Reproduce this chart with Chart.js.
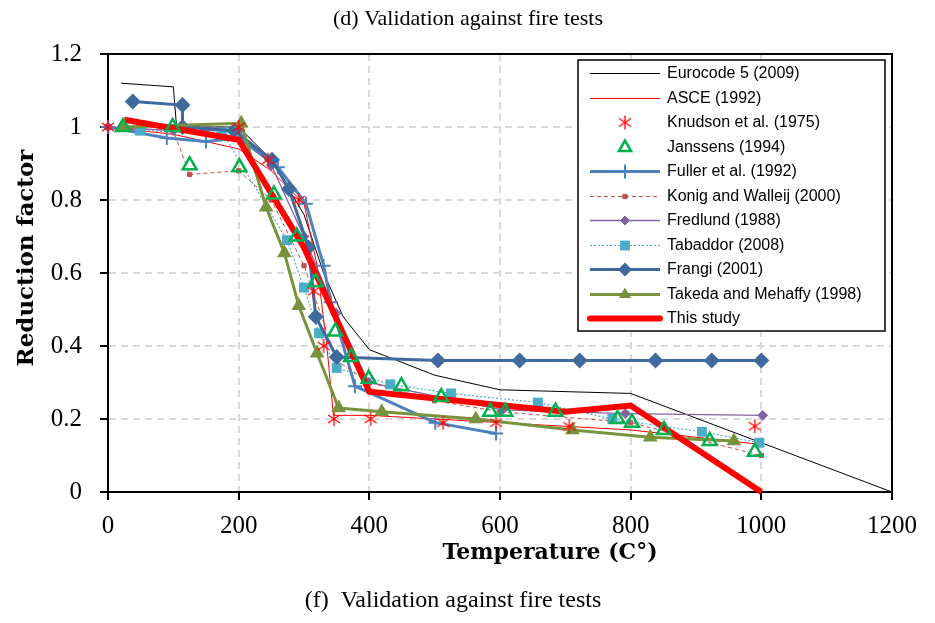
<!DOCTYPE html>
<html lang="en">
<head>
<meta charset="UTF-8">
<title>Validation against fire tests</title>
<style>
  html, body { margin: 0; padding: 0; background: #fff; }
  #wrap { width: 935px; height: 623px; position: relative; }
</style>
</head>
<body>
<div id="wrap"><canvas id="myChart"></canvas></div>

<script src="https://cdn.jsdelivr.net/npm/chart.js"></script>
<script>
// axis ticks
const xTicks = [0, 200, 400, 600, 800, 1000, 1200];
const yTicks = [0, 0.2, 0.4, 0.6, 0.8, 1, 1.2];
const yTickLabels = ['0', '0.2', '0.4', '0.6', '0.8', '1', '1.2'];

// temperature (C) / reduction factor
const eurocodeT = [20, 100, 105, 200, 250, 300, 330, 360, 400, 500, 600, 800, 1200];
const eurocodeR = [1.12, 1.11, 1.0, 1.0, 0.91, 0.76, 0.6, 0.48, 0.39, 0.32, 0.28, 0.27, 0];

const asceT = [0, 100, 200, 250, 300, 320, 335, 345, 400, 600, 800, 1000];
const asceR = [1.0, 0.98, 0.94, 0.88, 0.79, 0.62, 0.40, 0.21, 0.21, 0.19, 0.17, 0.13];

const knudsonT = [0, 200, 245, 292, 315, 330, 346, 402, 513, 594, 706, 990];
const knudsonR = [1.0, 1.0, 0.91, 0.80, 0.55, 0.40, 0.20, 0.20, 0.19, 0.19, 0.18, 0.18];

const janssensT = [23, 99, 125, 201, 254, 289, 318, 348, 372, 399, 449, 510, 585, 608, 685, 780, 802, 851, 921, 990];
const janssensR = [1.0, 1.0, 0.895, 0.89, 0.815, 0.70, 0.575, 0.44, 0.37, 0.31, 0.29, 0.26, 0.22, 0.22, 0.22, 0.20, 0.19, 0.17, 0.14, 0.11];

const fullerT = [0, 90, 150, 200, 260, 303, 330, 341, 378, 501, 594];
const fullerR = [1.0, 0.97, 0.96, 0.97, 0.89, 0.79, 0.62, 0.52, 0.29, 0.19, 0.16];

const konigT = [0, 100, 125, 200, 250, 300, 350, 400, 500, 600, 800, 1000];
const konigR = [1.0, 0.99, 0.87, 0.88, 0.80, 0.62, 0.36, 0.30, 0.25, 0.22, 0.19, 0.10];

const fredlundT = [0, 100, 200, 250, 300, 349, 399, 604, 792, 1002];
const fredlundR = [1.0, 0.99, 0.99, 0.895, 0.70, 0.49, 0.30, 0.225, 0.215, 0.21];

const tabaddorT = [49, 175, 274, 300, 323, 350, 432, 525, 658, 772, 909, 997];
const tabaddorR = [0.99, 0.985, 0.69, 0.56, 0.435, 0.34, 0.295, 0.27, 0.245, 0.20, 0.165, 0.135];

const frangiT = [38, 114, 114, 193, 251, 277, 307, 318, 350, 505, 630, 722, 838, 924, 1000];
const frangiR = [1.07, 1.06, 1.0, 0.99, 0.91, 0.83, 0.67, 0.48, 0.37, 0.36, 0.36, 0.36, 0.36, 0.36, 0.36];

const takedaT = [25, 204, 242, 270, 292, 320, 353, 419, 563, 711, 830, 958];
const takedaR = [1.0, 1.01, 0.78, 0.655, 0.51, 0.38, 0.23, 0.22, 0.20, 0.17, 0.15, 0.14];

const studyT = [25, 200, 300, 400, 700, 800, 1000];
const studyR = [1.02, 0.965, 0.67, 0.275, 0.22, 0.237, 0];

function pts(t, r) {
  return t.map((x, i) => ({ x: x, y: r[i] }));
}

// excel style asterisk marker
function asterisk(color) {
  const c = document.createElement('canvas');
  c.width = 16; c.height = 16;
  const g = c.getContext('2d');
  g.strokeStyle = color;
  g.lineWidth = 1.3;
  g.beginPath();
  g.moveTo(8, 1); g.lineTo(8, 15);
  g.moveTo(2, 4); g.lineTo(14, 12);
  g.moveTo(14, 4); g.lineTo(2, 12);
  g.stroke();
  return c;
}

const datasets = [
  { label: 'Eurocode 5 (2009)', data: pts(eurocodeT, eurocodeR), borderColor: '#000', borderWidth: 1, pointRadius: 0, order: 11 },
  { label: 'ASCE (1992)', data: pts(asceT, asceR), borderColor: '#FF0000', borderWidth: 1, pointRadius: 0, order: 10 },
  { label: 'Knudson et al. (1975)', data: pts(knudsonT, knudsonR), showLine: false, pointStyle: asterisk('#FF0000'),
    pointRadius: 7, borderColor: '#FF0000', order: 2 },
  { label: 'Janssens (1994)', data: pts(janssensT, janssensR), showLine: false, pointStyle: 'triangle', pointRadius: 8,
    borderColor: '#00B050', pointBorderWidth: 2.5, pointBackgroundColor: 'rgba(0,0,0,0)', order: 1 },
  { label: 'Fuller et al. (1992)', data: pts(fullerT, fullerR), borderColor: '#4F81BD', borderWidth: 3, pointStyle: 'cross',
    pointRadius: 7, pointBorderWidth: 2, order: 9 },
  { label: 'Konig and Walleij (2000)', data: pts(konigT, konigR), borderColor: '#C0504D', borderWidth: 1, borderDash: [4, 3],
    pointStyle: 'rect', pointRadius: 3, pointBackgroundColor: '#C0504D', order: 8 },
  { label: 'Fredlund (1988)', data: pts(fredlundT, fredlundR), borderColor: '#8064A2', borderWidth: 1.3, pointStyle: 'rectRot',
    pointRadius: 4.5, pointBackgroundColor: '#8064A2', order: 7 },
  { label: 'Tabaddor (2008)', data: pts(tabaddorT, tabaddorR), borderColor: '#4BACC6', borderWidth: 1.2, borderDash: [2, 2],
    pointStyle: 'rect', pointRadius: 7, pointBackgroundColor: '#4BACC6', pointBorderWidth: 0, order: 6 },
  { label: 'Frangi (2001)', data: pts(frangiT, frangiR), borderColor: '#3F6A9E', borderWidth: 3, pointStyle: 'rectRot',
    pointRadius: 8, pointBackgroundColor: '#3F6A9E', pointBorderWidth: 0, order: 5 },
  { label: 'Takeda and Mehaffy (1998)', data: pts(takedaT, takedaR), borderColor: '#77933C', borderWidth: 3, pointStyle: 'triangle',
    pointRadius: 8.5, pointBackgroundColor: '#77933C', pointBorderWidth: 0, order: 4 },
  { label: 'This study', data: pts(studyT, studyR), borderColor: '#FF0000', borderWidth: 6, pointRadius: 0, order: 3 }
];
datasets.forEach(d => { d.clip = false; d.fill = false; d.tension = 0; });

// frame on top and right of the plot area
const framePlugin = {
  id: 'frame',
  beforeDatasetsDraw(chart) {
    const a = chart.chartArea, ctx = chart.ctx;
    ctx.save();
    ctx.strokeStyle = '#000';
    ctx.lineWidth = 2;
    ctx.beginPath();
    ctx.moveTo(a.left, a.top);
    ctx.lineTo(a.right, a.top);
    ctx.lineTo(a.right, a.bottom);
    ctx.stroke();
    ctx.restore();
  }
};

// captions and axis titles
const textPlugin = {
  id: 'texts',
  afterDraw(chart) {
    const ctx = chart.ctx;
    ctx.save();
    ctx.fillStyle = '#000';
    ctx.textAlign = 'center';
    ctx.textBaseline = 'middle';
    ctx.font = '22px "Liberation Serif", "Times New Roman", serif';
    ctx.fillText('(d) Validation against fire tests', 468, 19);
    ctx.font = '24px "Liberation Serif", "Times New Roman", serif';
    ctx.fillText('(f)  Validation against fire tests', 453, 601);
    ctx.font = 'bold 22px "DejaVu Serif", serif';
    ctx.fillText('Temperature (C\u00B0)', 550, 553);
    ctx.font = 'bold 23px "DejaVu Serif", serif';
    ctx.translate(27, 258);
    ctx.rotate(-Math.PI / 2);
    ctx.fillText('Reduction factor', 0, 0);
    ctx.restore();
  }
};

// legend box inside the plot
const legendPlugin = {
  id: 'boxLegend',
  afterDraw(chart) {
    const ctx = chart.ctx;
    const left = 578, top = 60, w = 307, h = 271;
    ctx.save();
    ctx.fillStyle = '#fff';
    ctx.fillRect(left, top, w, h);
    ctx.strokeStyle = '#000';
    ctx.lineWidth = 1.5;
    ctx.strokeRect(left, top, w, h);
    ctx.font = '16px "Liberation Sans", Arial, sans-serif';
    ctx.textBaseline = 'middle';
    ctx.textAlign = 'left';
    chart.data.datasets.forEach((ds, i) => {
      const y = Math.round(73 + i * 24.5) + 0.5;
      if (ds.showLine !== false) {
        ctx.save();
        ctx.strokeStyle = ds.borderColor;
        ctx.lineWidth = ds.borderWidth;
        ctx.lineCap = ds.borderWidth > 4 ? 'round' : 'butt';
        ctx.setLineDash(ds.borderDash || []);
        ctx.beginPath();
        ctx.moveTo(590, y);
        ctx.lineTo(660, y);
        ctx.stroke();
        ctx.restore();
      }
      if (ds.pointRadius > 0) {
        ctx.save();
        ctx.setLineDash([]);
        ctx.fillStyle = ds.pointBackgroundColor || ds.borderColor;
        ctx.strokeStyle = ds.borderColor;
        ctx.lineWidth = ds.pointBorderWidth || 1;
        Chart.helpers.drawPoint(ctx, {
          pointStyle: ds.pointStyle,
          rotation: 0,
          radius: Math.min(ds.pointRadius, 7),
          borderWidth: ds.pointBorderWidth === undefined ? 1 : ds.pointBorderWidth
        }, 625, y);
        ctx.restore();
      }
      ctx.fillStyle = '#000';
      ctx.fillText(ds.label, 667, y);
    });
    ctx.restore();
  }
};

const tickFont = { family: '"Liberation Serif", "Times New Roman", serif', size: 25, lineHeight: 1 };

new Chart(document.getElementById('myChart'), {
  type: 'line',
  data: { datasets: datasets },
  options: {
    responsive: true,
    maintainAspectRatio: false,
    animation: false,
    layout: { padding: { top: 54, right: 43, bottom: 0, left: 0 } },
    plugins: { legend: { display: false }, tooltip: { enabled: false } },
    scales: {
      x: {
        type: 'linear',
        min: 0,
        max: 1200,
        afterBuildTicks: s => { s.ticks = xTicks.map(v => ({ value: v })); },
        afterFit: s => { s.height = 131; },
        ticks: { font: tickFont, color: '#000', padding: 14, autoSkip: false, maxRotation: 0,
          callback: v => String(v) },
        grid: { color: '#D9D9D9', lineWidth: 2, tickColor: '#000', tickLength: 8, tickWidth: 2 },
        border: { color: '#000', width: 2, dash: [7, 5] }
      },
      y: {
        type: 'linear',
        min: 0,
        max: 1.2,
        afterBuildTicks: s => { s.ticks = yTicks.map(v => ({ value: v })); },
        afterFit: s => { s.width = 108; },
        ticks: { font: tickFont, color: '#000', padding: 18, autoSkip: false,
          callback: (v, i) => yTickLabels[i] },
        grid: { color: '#D9D9D9', lineWidth: 2, tickColor: '#000', tickLength: 8, tickWidth: 2 },
        border: { color: '#000', width: 2, dash: [7, 5] }
      }
    }
  },
  plugins: [framePlugin, textPlugin, legendPlugin]
});
</script>
</body>
</html>
